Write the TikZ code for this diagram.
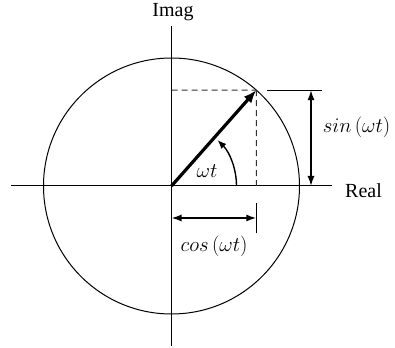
\documentclass[tikz,border=0pt]{standalone}
\usepackage{fontspec}
\setmainfont{Liberation Serif}
\usetikzlibrary{arrows.meta}
\tikzset{
  axisline/.style={line width=1pt},
  dimarrow/.style={line width=1.5pt,{Latex[length=10pt,width=7pt]}-{Latex[length=10pt,width=7pt]}},
  guide/.style={line width=1.1pt,dashed,dash pattern=on 6pt off 4pt,black!80},
  lbl/.style={font=\fontsize{20}{24}\selectfont,inner sep=0pt}
}
\begin{document}
\begin{tikzpicture}[x=1pt,y=1pt]
\useasboundingbox (-171.5,-161) rectangle (223.5,186);
\coordinate (O) at (0,0);
\coordinate (P) at (48.5:128);
\coordinate (Ptop) at (0,95.9);
\coordinate (Pfoot) at (84.8,0);
\coordinate (Yt) at (0,160);
\coordinate (Yb) at (0,-160);
\coordinate (Xl) at (-160,0);
\coordinate (Xr) at (160.5,0);
\coordinate (Rl) at (95.5,95.9);
\coordinate (Rr) at (150.5,95.9);
\coordinate (St) at (139.5,95.9);
\coordinate (Sb) at (139.5,0);
\coordinate (Cl) at (0,-32);
\coordinate (Cr) at (84.8,-32);
\coordinate (Tt) at (84.8,-17);
\coordinate (Tb) at (84.8,-47);
% axes and circle
\draw[axisline] (Xl) -- (Xr);
\draw[axisline] (Yt) -- (Yb);
\draw[line width=1pt] (O) circle[radius=128];
% guides
\draw[guide] (Ptop) -- (P);
\draw[guide] (P) -- (Pfoot);
% phasor
\draw[line width=3.2pt,-{Latex[length=13pt,width=10pt]}] (O) -- (P);
% angle arc
\draw[line width=1.4pt,-{Latex[length=9pt,width=7pt]}] (65,0) arc[start angle=0,end angle=45,radius=65];
% sin dimension
\draw[axisline] (Rl) -- (Rr);
\draw[dimarrow] (St) -- (Sb);
% cos dimension
\draw[axisline] (Tt) -- (Tb);
\draw[dimarrow] (Cl) -- (Cr);
% labels
\node[lbl] (imag) at (1.5,174) {Imag};
\node[lbl,anchor=west] (real) at (173.5,-5) {Real};
\node[lbl] (wt) at (35.5,15) {$\omega t$};
\node[lbl] (sinl) at (185,59) {$sin\,(\omega t)$};
\node[lbl] (cosl) at (42.5,-60.7) {$cos\,(\omega t)$};
\end{tikzpicture}
\end{document}
